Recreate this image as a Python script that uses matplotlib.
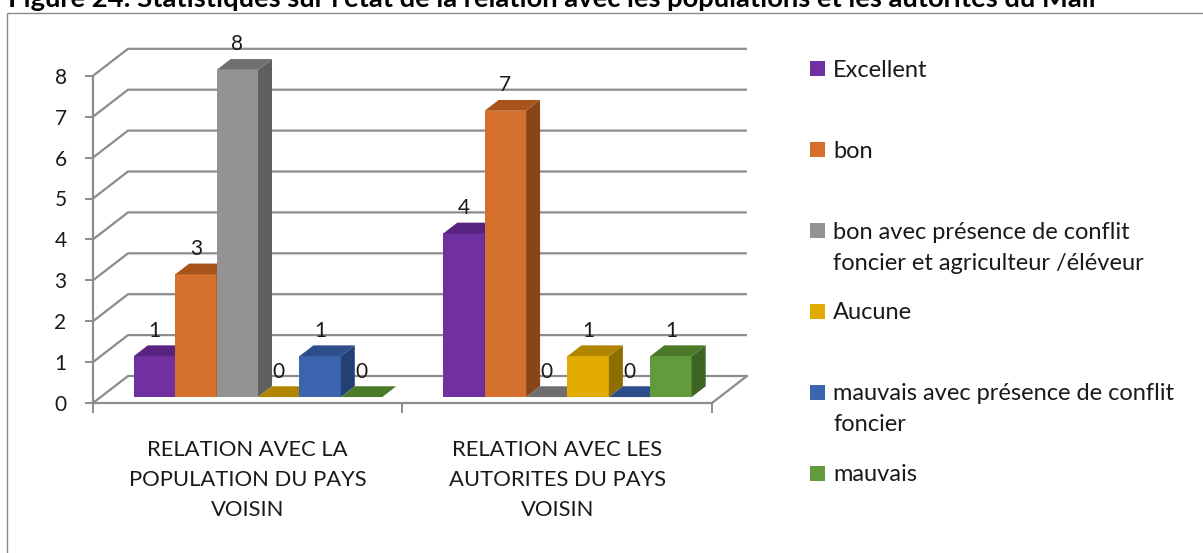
import matplotlib
matplotlib.use("Agg")
import matplotlib.pyplot as plt
from matplotlib.patches import Polygon, Rectangle
import numpy as np

plt.rcParams["font.family"] = ["Lato", "DejaVu Sans"]

W, H = 1203, 553
my_dpi = 100

title = "Figure 24: Statistiques sur l'état de la relation avec les populations et les autorités du Mali"
categories = ["RELATION AVEC LA\nPOPULATION DU PAYS\nVOISIN",
              "RELATION AVEC LES\nAUTORITES DU PAYS\nVOISIN"]
series = ["Excellent", "bon",
          "bon avec présence de conflit\nfoncier et agriculteur /éléveur",
          "Aucune",
          "mauvais avec présence de conflit\nfoncier",
          "mauvais"]
excellent = [1, 4]
bon = [3, 7]
bon_conflit = [8, 0]
aucune = [0, 1]
mauvais_conflit = [1, 0]
mauvais = [0, 1]
values = [excellent, bon, bon_conflit, aucune, mauvais_conflit, mauvais]
yticks = list(range(0, 9))

front = ["#7030a0", "#d4702c", "#939393", "#e2ab00", "#3b65ae", "#629b3c"]
top = ["#57237f", "#a8521c", "#6f6f6f", "#b08600", "#2d4e8b", "#4a7a2a"]
side = ["#4b1c6d", "#8a441a", "#5f5f5f", "#8f6e00", "#233f73", "#3d6424"]
grid_c = "#8c8c8c"
text_c = "#1a1a1a"
fs = 15

# geometry of the fake 3d box (data units: x = bar slots, y = values)
cat_w = 7.475
bar_start = 0.8
bar_w = 1.0
ox, oy = 0.845, 0.66       # wall depth
d0, d1 = 0.22, 0.62        # bar depth range
x_end = cat_w * len(categories)
px_slot, px_unit = 41.4, 40.9
x0_px, y0_px = 93, 403


def fx(x):
    return x / W


def fy(y):
    return 1 - y / H


fig = plt.figure(figsize=(W / my_dpi, H / my_dpi), dpi=my_dpi)
ymax = (y0_px - 30) / px_unit
ax = fig.add_axes([fx(x0_px), fy(y0_px), 16 * px_slot / W, (y0_px - 30) / H])
ax.set_xlim(0, 16)
ax.set_ylim(0, ymax)

# frame round the chart
fig.add_artist(Rectangle((fx(7), fy(600)), fx(1300), (600 - 13) / H,
                         transform=fig.transFigure, fill=False,
                         edgecolor="#8a8a8a", lw=1.0))

# title, cut by the top edge
fig.text(fx(8), fy(7), title, fontsize=19.7, fontweight="bold",
         color="#000000", va="baseline", ha="left")

# back wall gridlines + floor
for k in yticks:
    ax.plot([0, ox, x_end + ox], [k, k + oy, k + oy], color=grid_c, lw=1.6,
            zorder=1, solid_capstyle="butt")
ax.plot([x_end, x_end + ox], [0, oy], color=grid_c, lw=1.6, zorder=1)

# bars
z = 3
for c in range(len(categories)):
    for j, vals in enumerate(values):
        v = vals[c]
        xl = c * cat_w + bar_start + j * bar_w
        xr = xl + bar_w
        a, b = d0 * ox, d0 * oy
        e, f = d1 * ox, d1 * oy
        if v > 0:
            ax.bar(xl + a, v, width=bar_w, bottom=b, align="edge",
                   color=front[j], lw=0, zorder=z)
            ax.add_patch(Polygon([(xr + a, b), (xr + e, f), (xr + e, v + f),
                                  (xr + a, v + b)], closed=True,
                                 facecolor=side[j], lw=0, zorder=z))
        ax.add_patch(Polygon([(xl + a, v + b), (xl + e, v + f), (xr + e, v + f),
                              (xr + a, v + b)], closed=True,
                             facecolor=top[j], lw=0, zorder=z))
        z += 1
        ax.text(xl + a + bar_w / 2, v + f + 0.36, str(v), ha="center",
                va="center", fontsize=fs, color=text_c, zorder=50)

# axes
for s in ["top", "right"]:
    ax.spines[s].set_visible(False)
ax.spines["left"].set_bounds(0, 8)
ax.spines["bottom"].set_bounds(0, x_end)
for s in ["left", "bottom"]:
    ax.spines[s].set_color(grid_c)
    ax.spines[s].set_linewidth(1.6)
ax.set_yticks(yticks)
ax.tick_params(axis="y", direction="out", length=6, width=1.4, color=grid_c,
               labelsize=fs, labelcolor=text_c, pad=13)
ax.set_xticks([(c + 0.5) * cat_w for c in range(len(categories))])
ax.set_xticklabels(categories, fontsize=15.8, color=text_c, linespacing=1.62)
ax.tick_params(axis="x", which="major", length=0, pad=27)
ax.set_xticks([c * cat_w for c in range(len(categories) + 1)], minor=True)
ax.tick_params(axis="x", which="minor", direction="out", length=7, width=1.4,
               color=grid_c)

# legend
leg_y = np.linspace(69, 473, len(series))
for j, name in enumerate(series):
    fig.add_artist(Rectangle((fx(810), fy(leg_y[j] + 7.5)), 15 / W, 15 / H,
                             transform=fig.transFigure, facecolor=front[j],
                             lw=0))
    for i, line in enumerate(name.split("\n")):
        fig.text(fx(833), fy(leg_y[j] + 8 + 31 * i), line, fontsize=17,
                 color=text_c, va="baseline", ha="left")

fig.savefig("out.png", dpi=my_dpi, facecolor="white")
